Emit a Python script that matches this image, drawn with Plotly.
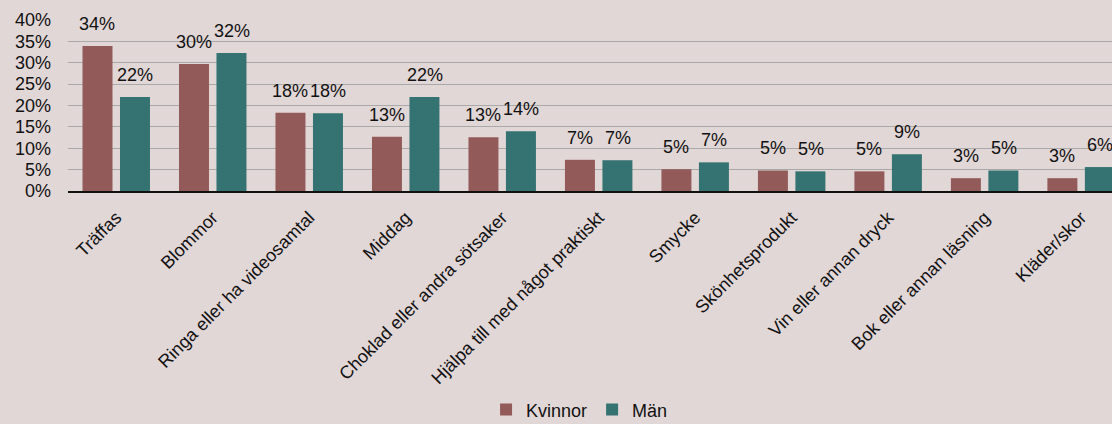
import plotly.graph_objects as go

categories = ["Träffas", "Blommor", "Ringa eller ha videosamtal", "Middag",
              "Choklad eller andra sötsaker", "Hjälpa till med något praktiskt",
              "Smycke", "Skönhetsprodukt", "Vin eller annan dryck",
              "Bok eller annan läsning", "Kläder/skor"]
kvinnor = [0.339, 0.297, 0.183, 0.127, 0.126, 0.073, 0.051, 0.048, 0.046, 0.030, 0.030]
man = [0.220, 0.323, 0.182, 0.220, 0.140, 0.072, 0.067, 0.046, 0.086, 0.048, 0.056]
series_names = ["Kvinnor", "Män"]
yticks = [0, 0.05, 0.10, 0.15, 0.20, 0.25, 0.30, 0.35, 0.40]

BG = "#E2D7D7"
COL_K = "#935A5A"
COL_M = "#357272"
FONT = "Liberation Sans, Arial, sans-serif"

fig = go.Figure()
fig.add_trace(go.Bar(x=categories, y=kvinnor, name=series_names[0],
                     marker=dict(color=COL_K, line=dict(width=0))))
fig.add_trace(go.Bar(x=categories, y=man, name=series_names[1],
                     marker=dict(color=COL_M, line=dict(width=0))))

annotations = []
for vals, shift in ((kvinnor, -19), (man, 19)):
    for c, v in zip(categories, vals):
        annotations.append(dict(x=c, y=v, xref="x", yref="y", text=f"{round(v*100):d}%",
                                showarrow=False, xshift=shift, yshift=10,
                                yanchor="bottom", font=dict(size=18, color="#111111", family=FONT)))

fig.update_layout(
    width=1112, height=424,
    margin=dict(l=68, r=0, t=20, b=233, autoexpand=False),
    paper_bgcolor=BG, plot_bgcolor=BG,
    barmode="group", bargap=0.223, bargroupgap=0.2,
    font=dict(family=FONT, color="#111111"),
    showlegend=True,
    legend=dict(orientation="h", x=0.49, xanchor="center", y=-1.28, yanchor="middle",
                font=dict(size=18, family=FONT), itemwidth=30, bgcolor="rgba(0,0,0,0)",
                tracegroupgap=0),
    annotations=annotations,
)
fig.update_xaxes(range=[-0.5, 10.32], tickangle=-45, tickfont=dict(size=18, family=FONT),
                 showline=True, linecolor="#111111", linewidth=2, ticks="", showgrid=False,
                 ticklabelstandoff=7, automargin=False)
fig.update_yaxes(range=[0, 0.40], tickvals=yticks, tickformat=".0%", tickfont=dict(size=18, family=FONT),
                 showgrid=True, gridcolor="#A9A9A9", gridwidth=1, zeroline=False, showline=False,
                 ticks="", ticklabelstandoff=16, automargin=False)

html = fig.to_html(full_html=True, include_plotlyjs=True, config={"displayModeBar": False})
html = html.replace("<head>", "<head><style>html,body{margin:0;padding:0;background:%s;}</style>" % BG, 1)
with open("out.html", "w", encoding="utf-8") as f:
    f.write(html)
